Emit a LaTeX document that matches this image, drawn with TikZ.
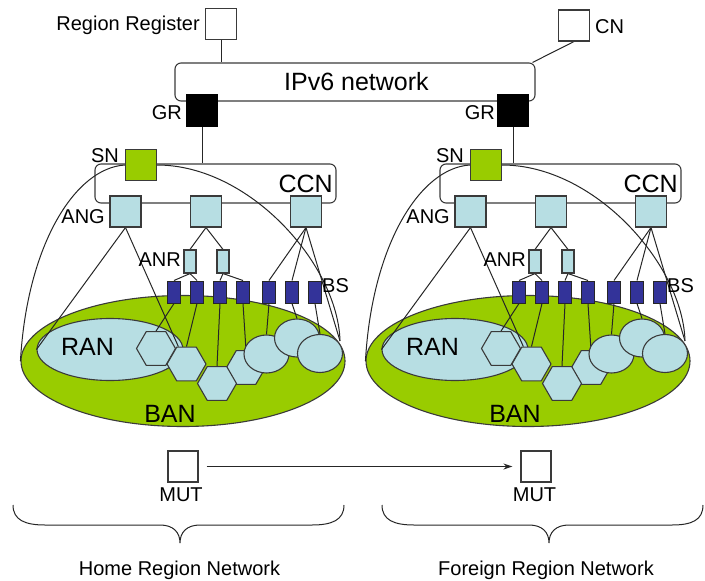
\documentclass[tikz,border=0pt]{standalone}
\usepackage{fontspec}
\setmainfont{Liberation Sans}
\usetikzlibrary{shapes.geometric,arrows.meta}
\pgfdeclarelayer{base}
\pgfdeclarelayer{wires}
\pgfsetlayers{base,wires,main}
\definecolor{leaf}{HTML}{99CC00}
\definecolor{pale}{HTML}{B7DEE3}
\definecolor{navy}{HTML}{333399}
\definecolor{edge}{HTML}{3A3A3A}
\begin{document}
\begin{tikzpicture}[x=1pt,y=-1pt,
  font=\fontsize{20}{24}\selectfont,
  sq/.style={draw=edge, line width=1.1pt, inner sep=0pt, minimum width=31pt, minimum height=31pt},
  whitebox/.style={sq, fill=white},
  angbox/.style={sq, fill=pale},
  snbox/.style={sq, fill=leaf},
  grbox/.style={sq, fill=black, draw=black},
  anrbox/.style={draw=edge, line width=1.1pt, fill=pale, inner sep=0pt, minimum width=12pt, minimum height=23pt},
  bsbox/.style={draw=black!85, line width=1pt, fill=navy, inner sep=0pt, minimum width=12.5pt, minimum height=22pt},
  region/.style={draw=edge, line width=1.1pt, rounded corners=6pt, inner sep=0pt},
  banell/.style={ellipse, draw=edge, line width=1.1pt, fill=leaf, inner sep=0pt, minimum width=324pt, minimum height=131pt},
  ranell/.style={ellipse, draw=edge, line width=1.1pt, fill=pale, inner sep=0pt, minimum width=146pt, minimum height=62pt},
  hexcell/.style={regular polygon, regular polygon sides=6, minimum size=39pt, inner sep=0pt, draw=edge, line width=1.1pt, fill=pale},
  cellell/.style={ellipse, minimum width=45pt, minimum height=38pt, inner sep=0pt, draw=edge, line width=1.1pt, fill=pale},
  wire/.style={draw=black!85, line width=1pt},
  lbl/.style={inner sep=0pt},
  biglbl/.style={inner sep=0pt, font=\fontsize{25}{30}\selectfont}]

\useasboundingbox (0,0) rectangle (705,581);

% ---- core: IPv6 network, region register, correspondent node, gateways
\begin{pgfonlayer}{base}
  \node[region, minimum width=360pt, minimum height=38pt] (ipv6) at (355,82) {};
\end{pgfonlayer}
\node[biglbl, anchor=base] (ipv6lbl) at (356.5,90) {IPv6 network};
\node[whitebox] (rr) at (221,24) {};
\node[lbl, anchor=base east] (rrlbl) at (200,30.7) {Region Register};
\node[whitebox, minimum height=31pt] (cn) at (574,25.5) {};
\node[lbl, anchor=base west] (cnlbl) at (595,33) {CN};
\node[grbox] (gr1) at (202,110.5) {};
\node[lbl, anchor=base east] (gr1lbl) at (182,119) {GR};
\node[grbox] (gr2) at (513,110.5) {};
\node[lbl, anchor=base east] (gr2lbl) at (495,119) {GR};

% ---- the two region networks (home, foreign)
\foreach \p/\dx in {h/0,f/345}{
\begin{scope}[shift={(\dx,0)}]
  \begin{pgfonlayer}{base}
    \node[banell] (\p-ban) at (183,361) {};
    \node[ranell] (\p-ran) at (110,349.5) {};
    \node[region, minimum width=241pt, minimum height=39pt] (\p-ccn) at (215.5,183.5) {};
  \end{pgfonlayer}
  \node[biglbl, anchor=base] (\p-ranlbl) at (87.5,355) {RAN};
  \node[biglbl, anchor=base] (\p-banlbl) at (170,422.5) {BAN};
  \node[biglbl, anchor=base east] (\p-ccnlbl) at (333,192) {CCN};

  \node[snbox] (\p-sn) at (141,165) {};
  \node[lbl, anchor=base east] (\p-snlbl) at (119,162) {SN};

  \node[angbox] (\p-ang1) at (125.5,211.5) {};
  \node[angbox] (\p-ang2) at (206,211.5) {};
  \node[angbox] (\p-ang3) at (306,211.5) {};
  \node[lbl, anchor=base east] (\p-anglbl) at (105,223) {ANG};

  \node[anrbox] (\p-anr1) at (190,261.5) {};
  \node[anrbox] (\p-anr2) at (223,261.5) {};
  \node[lbl, anchor=base east] (\p-anrlbl) at (181,266) {ANR};

  \foreach \i/\x in {1/174,2/197,3/220,4/243,5/269,6/292,7/315}
    \node[bsbox] (\p-bs\i) at (\x,292) {};
  \node[lbl, anchor=base west] (\p-bslbl) at (322,292.5) {BS};

  % radio cells
  \foreach \n/\x/\y in {h4/246/367.5,h1/156/348.5,h2/186.5/364,h3/217/383.5}
    \node[hexcell] (\p-\n) at (\x,\y) {};
  \foreach \n/\x/\y in {e1/266.5/354,e2/297/338,e3/320/353.5}
    \node[cellell] (\p-\n) at (\x,\y) {};

  \coordinate (\p-ne) at (340,341);

  \begin{pgfonlayer}{wires}
    \draw[wire] (\p-sn.west) .. controls (75,168) and (27,245) .. (\p-ban.west);
    \draw[wire] (\p-sn.east) .. controls (250,165) and (338,265) .. (\p-ne);
    \draw[wire] (\p-ang1.south) -- (\p-ran.west);
    \draw[wire] (\p-ang1.south) -- (\p-h2.115);
    \draw[wire] (\p-ang2.south) -- (\p-anr1.north);
    \draw[wire] (\p-ang2.south) -- (\p-anr2.north);
    \draw[wire] (\p-anr1.south) -- (\p-bs1.north);
    \draw[wire] (\p-anr1.south) -- (\p-bs2.north);
    \draw[wire] (\p-anr2.south) -- (\p-bs3.north);
    \draw[wire] (\p-anr2.south) -- (\p-bs4.north);
    \draw[wire] (\p-ang3.south) -- (\p-bs5.north);
    \draw[wire] (\p-ang3.south) -- (\p-bs6.north);
    \draw[wire] (\p-ang3.south) -- (\p-ne);
    \foreach \b/\c in {1/h1,2/h2,3/h3,4/h4,5/e1,6/e2,7/e3}
      \draw[wire] (\p-bs\b.south) -- (\p-\c.north);
  \end{pgfonlayer}
\end{scope}
}

% ---- links from the core
\begin{pgfonlayer}{wires}
  \draw[wire] (rr.south) -- (rr.south |- ipv6.north);
  \draw[wire] (cn.south) -- ([xshift=-3pt]ipv6.north east);
  \draw[wire] (gr1.south) -- (gr1.south |- h-ccn.north);
  \draw[wire] (gr2.south) -- (gr2.south |- f-ccn.north);
\end{pgfonlayer}

% ---- mobile terminal moving between regions
\node[whitebox, minimum width=30pt] (mut1) at (183,466.5) {};
\node[lbl, anchor=base] (mut1lbl) at (181,501.5) {MUT};
\node[whitebox, minimum width=30pt] (mut2) at (536,466.5) {};
\node[lbl, anchor=base] (mut2lbl) at (534.5,501.5) {MUT};
\draw[wire, -{Stealth[length=9pt,width=6pt]}, shorten <=8pt, shorten >=8pt] (mut1) -- (mut2);

% ---- braces and region names
\draw[wire] (13,505) .. controls (13,520) and (25,525) .. (45,525) -- (160,525)
  .. controls (173,525) and (180,532) .. (180,543)
  .. controls (180,532) and (187,525) .. (200,525) -- (312,525)
  .. controls (332,525) and (344,520) .. (344,505);
\draw[wire] (382,505) .. controls (382,520) and (394,525) .. (414,525) -- (529,525)
  .. controls (542,525) and (549,532) .. (549,543)
  .. controls (549,532) and (556,525) .. (569,525) -- (672,525)
  .. controls (692,525) and (703,520) .. (703,505);
\node[lbl, anchor=base] (homelbl) at (179.5,575) {Home Region Network};
\node[lbl, anchor=base] (foreignlbl) at (546,575) {Foreign Region Network};
\end{tikzpicture}
\end{document}
